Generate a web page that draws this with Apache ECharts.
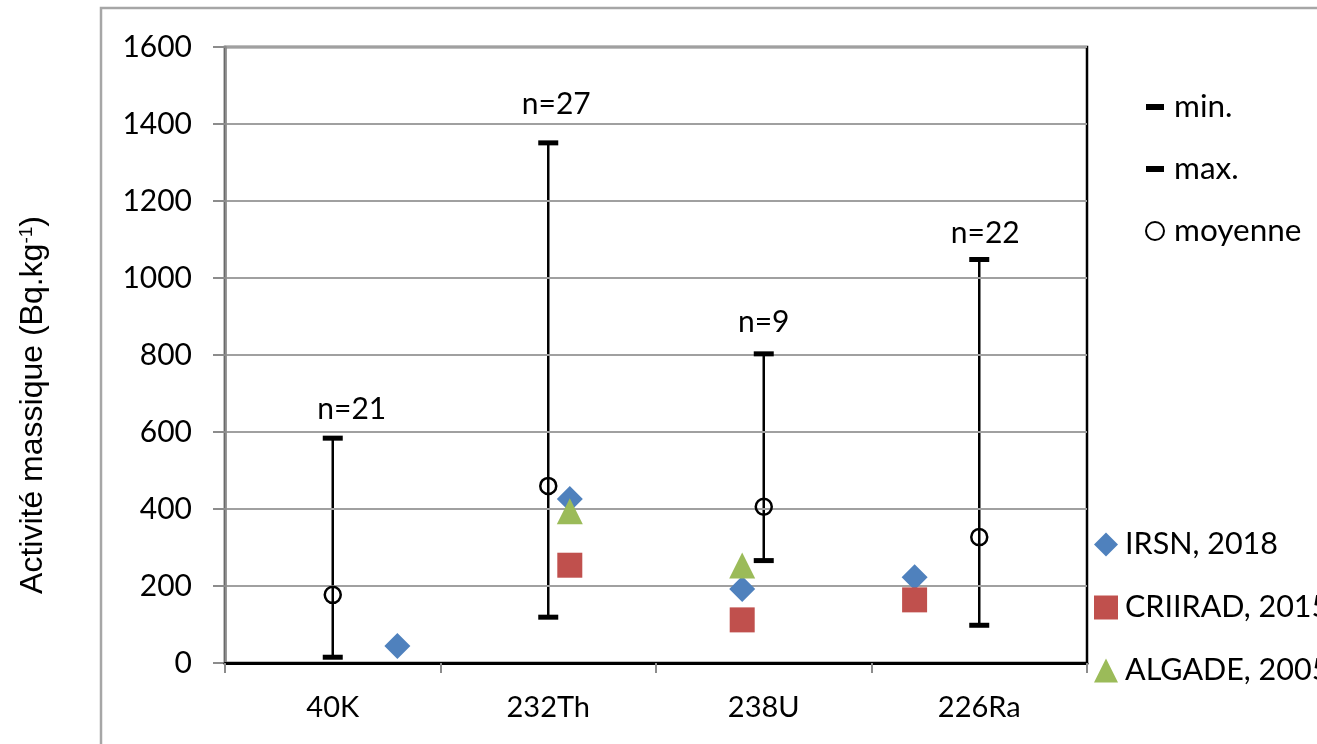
<!DOCTYPE html>
<html>
<head>
<meta charset="utf-8">
<script src="https://cdn.jsdelivr.net/npm/echarts@6/dist/echarts.min.js"></script>
<style>
  html, body { margin: 0; padding: 0; background: #fff; }
  #chart { width: 1317px; height: 744px; }
</style>
</head>
<body>
<div id="chart"></div>
<script>
// ---- data ----
const categories = ['40K', '232Th', '238U', '226Ra'];
const minValues = [15, 119, 266, 98];
const maxValues = [584, 1351, 803, 1048];
const meanValues = [177, 460, 406, 327];
const nLabels = ['n=21', 'n=27', 'n=9', 'n=22'];
// secondary (offset) category axis used by the literature values
const secondaryCategories = [' ', '40K', '232Th', '238U', '226Ra', '  '];
const irsn2018 = [null, 44, 426, 192, 223, null];
const criirad2015 = [null, null, 254, 112, 164, null];
const algade2005 = [null, null, 394, 253, null, null];
const yTicks = { min: 0, max: 1600, interval: 200 };

// ---- style helpers ----
const nLabelOffsets = [[19, -3], [8, -13], [0, -6], [6, -1]];
const LATO = 'Lato';
const dashIcon = 'path://M0,0 L18,0 L18,6 L0,6 Z';

const chart = echarts.init(document.getElementById('chart'));

const errorBarData = categories.map((c, i) => [i, minValues[i], maxValues[i]]);

const option = {
  backgroundColor: '#fff',
  animation: false,
  graphic: [{
    type: 'rect',
    shape: { x: 101, y: 8, width: 1400, height: 1000 },
    style: { fill: 'none', stroke: '#A6A6A6', lineWidth: 2.5 },
    z: -1
  }],
  grid: {
    left: 225, right: 230, top: 47, bottom: 81,
    show: true, borderColor: '#000', borderWidth: 2.5, backgroundColor: 'transparent'
  },
  legend: [{
    orient: 'vertical',
    left: 1140, top: 86,
    itemWidth: 18, itemHeight: 18, itemGap: 30,
    textStyle: { fontFamily: LATO, fontSize: 31.5, color: '#000', lineHeight: 32, padding: [0, 0, 0, 5] },
    data: [
      { name: 'min.', icon: dashIcon },
      { name: 'max.', icon: dashIcon },
      { name: 'moyenne' }
    ],
    selectedMode: false
  }, {
    orient: 'vertical',
    left: 1089, top: 524,
    itemWidth: 24, itemHeight: 24, itemGap: 32,
    textStyle: { fontFamily: LATO, fontSize: 30.5, color: '#000', lineHeight: 30, padding: [0, 0, 0, 2] },
    data: ['IRSN, 2018', 'CRIIRAD, 2015', 'ALGADE, 2005'],
    selectedMode: false
  }],
  xAxis: [{
    type: 'category',
    data: categories,
    boundaryGap: true,
    axisLine: { show: true, lineStyle: { color: '#000', width: 3 } },
    axisTick: { show: true, length: 10, lineStyle: { color: '#8C8C8C', width: 2 } },
    axisLabel: { fontFamily: LATO, fontSize: 29, color: '#000', margin: 30 },
    splitLine: { show: false },
    z: 5
  }, {
    type: 'category',
    data: secondaryCategories,
    boundaryGap: false,
    show: false,
    position: 'bottom'
  }],
  yAxis: {
    type: 'value',
    min: yTicks.min, max: yTicks.max, interval: yTicks.interval,
    name: 'Activité massique (Bq.kg{sup|-1})',
    nameLocation: 'middle',
    nameGap: 175,
    nameRotate: 90,
    nameTextStyle: {
      fontFamily: 'Liberation Sans', fontSize: 32, color: '#000',
      padding: [0, 100, 0, 0],
      rich: { sup: { fontFamily: 'Liberation Sans', fontSize: 19, color: '#000', verticalAlign: 'top', padding: [0, 0, 14, 0] } }
    },
    axisLine: { show: true, lineStyle: { color: '#8C8C8C', width: 2.5 } },
    axisTick: { show: true, inside: false, length: 12, lineStyle: { color: '#8C8C8C', width: 2 } },
    axisLabel: { fontFamily: LATO, fontSize: 30, color: '#000', margin: 33, formatter: (v) => String(v) },
    splitLine: { show: true, lineStyle: { color: '#A0A0A0', width: 2 } },
    z: 4
  },
  series: [{
    name: 'errorbar',
    type: 'custom',
    xAxisIndex: 0,
    data: errorBarData,
    encode: { x: 0, y: [1, 2] },
    renderItem: function (params, api) {
      const i = api.value(0);
      const p1 = api.coord([i, api.value(1)]);
      const p2 = api.coord([i, api.value(2)]);
      return {
        type: 'line',
        shape: { x1: p1[0], y1: p1[1], x2: p2[0], y2: p2[1] },
        style: { stroke: '#000', lineWidth: 2.5 }
      };
    },
    z: 3,
    silent: true
  }, {
    name: 'min.',
    type: 'scatter',
    xAxisIndex: 0,
    data: minValues,
    symbol: 'rect',
    symbolSize: [20, 5],
    itemStyle: { color: '#000', opacity: 1 },
    z: 4
  }, {
    name: 'max.',
    type: 'scatter',
    xAxisIndex: 0,
    data: maxValues.map((v, i) => ({
      value: v,
      label: { offset: nLabelOffsets[i] }
    })),
    symbol: 'rect',
    symbolSize: [20, 5],
    itemStyle: { color: '#000', opacity: 1 },
    label: {
      show: true,
      position: 'top',
      distance: 8,
      fontFamily: LATO, fontSize: 30, color: '#000',
      formatter: (p) => nLabels[p.dataIndex]
    },
    z: 4
  }, {
    name: 'moyenne',
    type: 'scatter',
    xAxisIndex: 0,
    data: meanValues,
    symbol: 'circle',
    symbolSize: 16,
    itemStyle: { color: 'rgba(255,255,255,0)', borderColor: '#000', borderWidth: 2.5, opacity: 1 },
    z: 5
  }, {
    name: 'IRSN, 2018',
    type: 'scatter',
    xAxisIndex: 1,
    data: irsn2018,
    symbol: 'diamond',
    symbolSize: 26,
    itemStyle: { color: '#4F81BD', opacity: 1 },
    z: 6
  }, {
    name: 'CRIIRAD, 2015',
    type: 'scatter',
    xAxisIndex: 1,
    data: criirad2015,
    symbol: 'rect',
    symbolSize: 25,
    itemStyle: { color: '#C0504D', opacity: 1 },
    z: 6
  }, {
    name: 'ALGADE, 2005',
    type: 'scatter',
    xAxisIndex: 1,
    data: algade2005,
    symbol: 'triangle',
    symbolSize: 26,
    itemStyle: { color: '#9BBB59', opacity: 1 },
    z: 6
  }]
};

chart.setOption(option);
</script>
</body>
</html>
